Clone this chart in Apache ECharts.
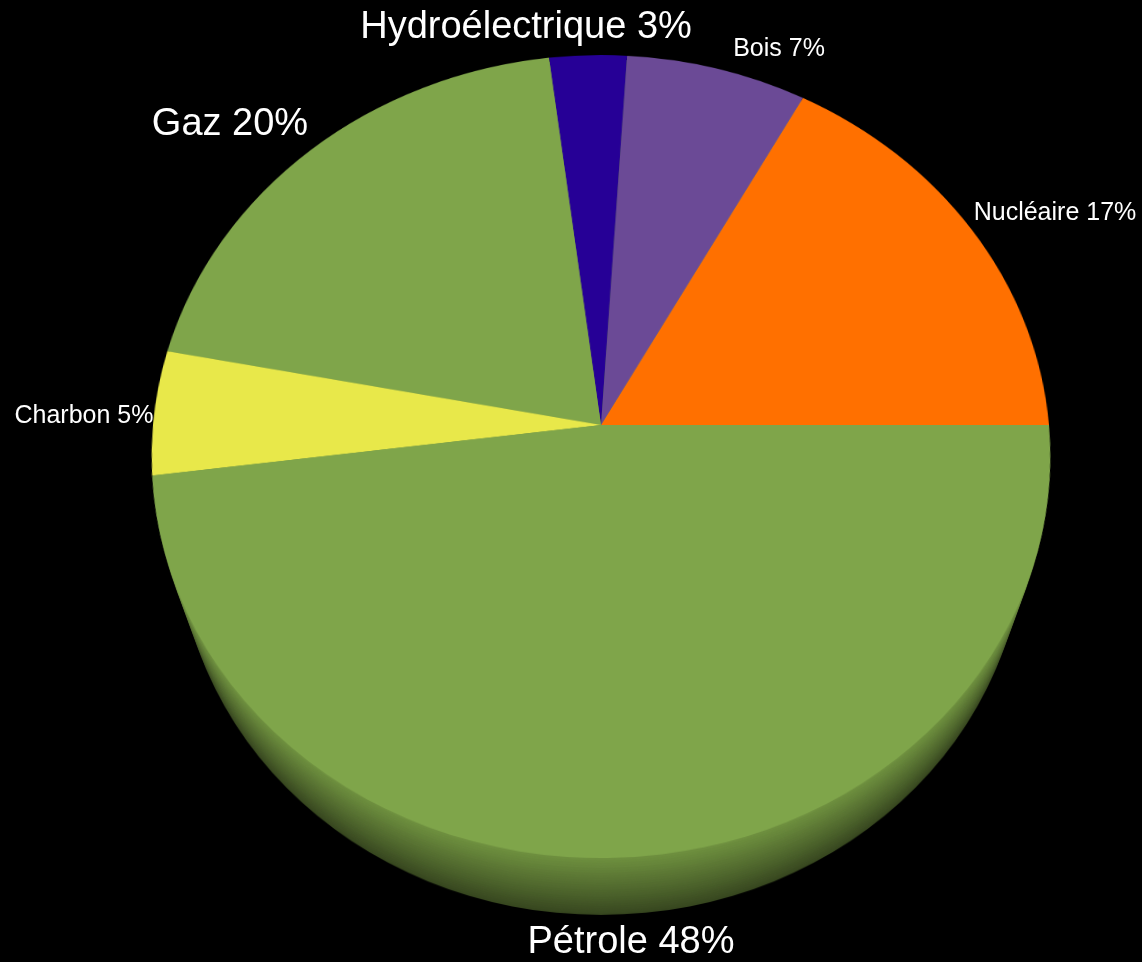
<!DOCTYPE html>
<html>
<head>
<meta charset="utf-8">
<script src="https://cdn.jsdelivr.net/npm/echarts@6/dist/echarts.min.js"></script>
<style>
html, body { margin: 0; padding: 0; background: #000; }
#wrap { position: relative; width: 1142px; height: 962px; overflow: hidden; background: #000; }
/* the disc is tilted back with a CSS perspective; its centre (the apex of the slices) sits at 601,425 */
.disc { position: absolute; left: 151px; top: -25px; width: 900px; height: 900px; transform-origin: 50% 50%; }
#labels { position: absolute; left: 0; top: 0; width: 1142px; height: 962px; }
</style>
</head>
<body>
<div id="wrap"><div id="labels"></div></div>
<script>
var categories = ['Nucléaire', 'Bois', 'Hydroélectrique', 'Gaz', 'Charbon', 'Pétrole'];
var shares = [17, 7, 3, 20, 5, 48];

var colors = ['#FF7000', '#6B4A96', '#260096', '#7FA54A', '#E8E84A', '#7FA54A'];
// label placement (centre of text) per category
var labelAt = {
    'Nucléaire': [1055, 213],
    'Bois': [779, 49],
    'Hydroélectrique': [526, 28],
    'Gaz': [230, 125],
    'Charbon': [84, 416],
    'Pétrole': [631, 943]
};
var bigLabels = ['Hydroélectrique', 'Gaz', 'Pétrole'];

var tilt = 'perspective(2595px) rotateX(27.04deg)';
var depth = 183;      // thickness of the disc
var layers = 24;
var wrap = document.getElementById('wrap');
var labelDiv = document.getElementById('labels');

function makeDisc(z) {
    var d = document.createElement('div');
    d.className = 'disc';
    d.style.transform = tilt + ' translateZ(' + (-z) + 'px)';
    wrap.insertBefore(d, labelDiv);
    return echarts.init(d);
}

function mix(a, b, t) {
    var pa = [1, 3, 5].map(function (k) { return parseInt(a.substr(k, 2), 16); });
    var pb = [1, 3, 5].map(function (k) { return parseInt(b.substr(k, 2), 16); });
    return 'rgb(' + pa.map(function (v, i) { return Math.round(v + (pb[i] - v) * t); }).join(',') + ')';
}

// side wall, deepest slice first
for (var i = layers; i >= 1; i--) {
    var t = i / layers;
    makeDisc(depth * t).setOption({
        animation: false,
        series: [{
            type: 'pie',
            silent: true,
            center: [450, 450],
            radius: 448,
            label: { show: false },
            labelLine: { show: false },
            itemStyle: { borderWidth: 0, color: mix('#6f913f', '#37471f', t) },
            data: [{ name: 'side', value: 1 }]
        }]
    });
}

// top face
makeDisc(0).setOption({
    animation: false,
    series: [{
        type: 'pie',
        silent: true,
        center: [450, 450],
        radius: 448,
        startAngle: 0,
        clockwise: false,
        label: { show: false },
        labelLine: { show: false },
        itemStyle: { borderWidth: 0 },
        data: categories.map(function (name, i) {
            return { name: name, value: shares[i], itemStyle: { color: colors[i] } };
        })
    }]
});

var labelChart = echarts.init(labelDiv);
labelChart.setOption({
    backgroundColor: 'transparent',
    animation: false,
    series: [{
        type: 'pie',
        silent: true,
        center: [601, 440],
        radius: 400,
        startAngle: 0,
        clockwise: false,
        avoidLabelOverlap: false,
        itemStyle: { color: 'transparent', borderWidth: 0 },
        labelLine: { show: false },
        label: {
            show: true,
            position: 'inside',
            color: '#fff',
            fontFamily: 'Liberation Sans, Arial, sans-serif',
            formatter: '{b} {c}%',
            fontSize: 25
        },
        labelLayout: function (params) {
            var p = labelAt[categories[params.dataIndex]];
            return { x: p[0], y: p[1], align: 'center', verticalAlign: 'middle' };
        },
        data: categories.map(function (name, i) {
            return {
                name: name,
                value: shares[i],
                label: { fontSize: bigLabels.indexOf(name) >= 0 ? 38 : 25 }
            };
        })
    }]
});
</script>
</body>
</html>
